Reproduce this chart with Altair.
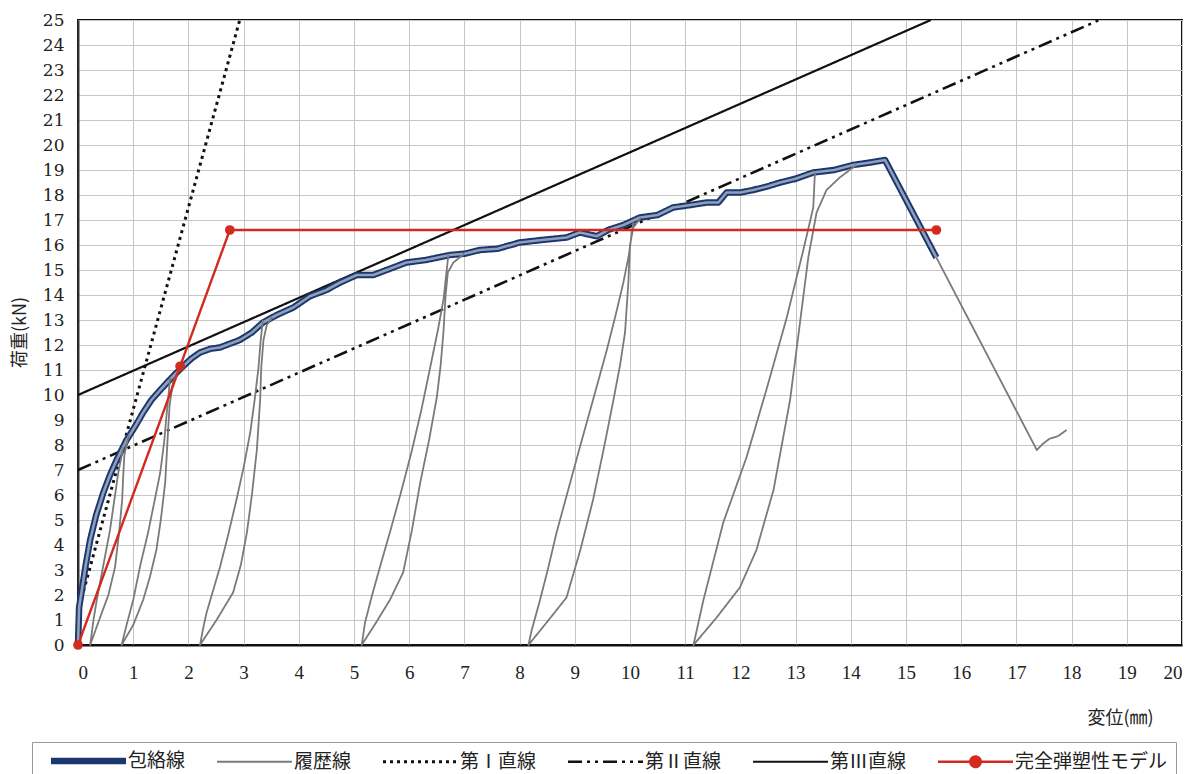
import altair as alt
import pandas as pd

# ---------------- data ----------------
series_names = ["包絡線", "履歴線", "第Ⅰ直線", "第Ⅱ直線", "第Ⅲ直線", "完全弾塑性モデル"]
series_colors = ["#1c3770", "#7a7a7a", "#111111", "#111111", "#111111", "#d42a1e"]
series_dashes = [[1, 0], [1, 0], [3, 4], [14, 5, 3, 5, 3, 5], [1, 0], [1, 0]]
series_widths = [6.5, 1.8, 3, 2.6, 2.2, 2.4]

x_ticks = list(range(0, 21))
y_ticks = list(range(0, 26))

# envelope (包絡線)
env_x = [0, 0.02, 0.07, 0.14, 0.22, 0.33, 0.46, 0.58, 0.7, 0.88, 1.05, 1.18, 1.33, 1.49, 1.7,
         1.88, 2.05, 2.21, 2.4, 2.57, 2.75, 2.93, 3.15, 3.35, 3.6, 3.9, 4.2, 4.5, 4.75, 5.05,
         5.35, 5.65, 5.95, 6.3, 6.74, 7.0, 7.28, 7.6, 8.0, 8.4, 8.85, 9.09, 9.4, 9.6, 9.88,
         10.18, 10.5, 10.78, 11.1, 11.39, 11.6, 11.75, 12.0, 12.23, 12.5, 12.72, 13.0, 13.32,
         13.7, 14.04, 14.35, 14.62, 15.55]
env_y = [0, 1.5, 2.2, 3.2, 4.2, 5.2, 6.1, 6.8, 7.4, 8.2, 8.8, 9.3, 9.8, 10.2, 10.7,
         11.1, 11.45, 11.7, 11.85, 11.9, 12.05, 12.2, 12.5, 12.9, 13.2, 13.5, 13.95, 14.2, 14.5, 14.8,
         14.8, 15.05, 15.3, 15.4, 15.6, 15.65, 15.8, 15.85, 16.1, 16.2, 16.3, 16.5, 16.35, 16.6, 16.8,
         17.1, 17.2, 17.5, 17.6, 17.7, 17.7, 18.1, 18.1, 18.2, 18.35, 18.5, 18.65, 18.9,
         19.0, 19.2, 19.3, 19.4, 15.5]

# hysteresis loops (履歴線): unloading down the left branch, reloading up the right branch
loop1_x = [0.82, 0.73, 0.58, 0.46, 0.34, 0.28, 0.22, 0.4, 0.55, 0.67, 0.74, 0.8, 0.82, 0.84, 0.92]
loop1_y = [7.9, 6.9, 4.6, 3.2, 1.8, 1.0, 0, 1.1, 2.0, 3.1, 4.4, 5.8, 6.8, 7.6, 8.4]

loop2_x = [1.67, 1.64, 1.6, 1.56, 1.49, 1.39, 1.27, 1.13, 1.0, 0.88, 0.79,
           1.0, 1.18, 1.3, 1.42, 1.5, 1.58, 1.63, 1.66, 1.72, 1.82]
loop2_y = [10.7, 10.0, 9.1, 8.1, 6.9, 5.8, 4.5, 3.2, 1.8, 0.8, 0,
           0.8, 1.8, 2.7, 3.8, 5.0, 6.5, 8.5, 9.6, 10.5, 11.0]

loop3_x = [3.35, 3.31, 3.27, 3.2, 3.12, 3.0, 2.87, 2.72, 2.57, 2.45, 2.33, 2.27, 2.21,
           2.51, 2.81, 2.95, 3.06, 3.15, 3.24, 3.3, 3.32, 3.36, 3.42, 3.52]
loop3_y = [13.0, 12.2, 11.1, 9.8, 8.5, 7.1, 5.8, 4.4, 3.1, 2.2, 1.3, 0.7, 0,
           1.0, 2.1, 3.2, 4.5, 6.0, 7.8, 9.8, 11.1, 12.2, 12.8, 13.1]

loop4_x = [6.71, 6.62, 6.52, 6.38, 6.22, 6.04, 5.85, 5.65, 5.48, 5.32, 5.2, 5.14,
           5.4, 5.65, 5.89, 6.05, 6.2, 6.36, 6.5, 6.57, 6.62, 6.66, 6.7, 6.8, 7.0]
loop4_y = [15.6, 13.8, 12.6, 11.1, 9.4, 7.7, 6.1, 4.5, 3.2, 1.93, 0.9, 0,
           0.9, 1.8, 2.9, 4.6, 6.5, 8.2, 9.9, 11.2, 12.5, 14.0, 14.9, 15.3, 15.65]

loop5_x = [10.06, 9.98, 9.88, 9.74, 9.58, 9.33, 9.09, 8.88, 8.67, 8.52, 8.37, 8.22, 8.16,
           8.49, 8.85, 9.1, 9.33, 9.52, 9.7, 9.82, 9.91, 9.97, 10.0, 10.06, 10.2]
loop5_y = [16.9, 15.6, 14.5, 13.2, 11.8, 9.8, 7.9, 6.2, 4.5, 3.1, 1.8, 0.6, 0,
           0.9, 1.9, 3.8, 5.8, 7.8, 9.8, 11.2, 12.5, 14.5, 16.0, 16.7, 17.1]

loop6_x = [13.35, 13.32, 13.14, 12.84, 12.47, 12.11, 11.69, 11.33, 11.25, 11.15,
           11.57, 11.99, 12.29, 12.6, 12.9, 13.08, 13.23, 13.38, 13.56, 13.8, 14.1]
loop6_y = [18.9, 17.5, 15.8, 13.1, 10.2, 7.5, 4.9, 1.8, 1.0, 0,
           1.1, 2.3, 3.8, 6.2, 9.8, 12.9, 15.5, 17.3, 18.2, 18.7, 19.2]

tail_x = [15.55, 17.37, 17.48, 17.6, 17.75, 17.91]
tail_y = [15.5, 7.8, 8.05, 8.25, 8.35, 8.6]

# straight reference lines
line1_x = [0, 2.93]
line1_y = [1.35, 25]
line2_x = [0, 18.5]
line2_y = [7.0, 25]
line3_x = [0, 15.45]
line3_y = [10.0, 25]

# perfectly elasto-plastic model
model_x = [0, 1.85, 2.75, 15.55]
model_y = [0, 11.15, 16.6, 16.6]

# legend symbol paths (unit = half of sqrt(symbolSize))
plain_path = "M0,0H10"
dot_path = "M0,0H10M4.3,0A0.7,0.7 0 1 1 5.7,0A0.7,0.7 0 1 1 4.3,0Z"
series_shapes = [plain_path, plain_path, plain_path, plain_path, plain_path, dot_path]


# ---------------- helpers ----------------
def rows(series, seg, xs, ys):
    return [dict(series=series, seg=seg, i=k, x=a, y=b) for k, (a, b) in enumerate(zip(xs, ys))]


env_df = pd.DataFrame(rows("包絡線", "env", env_x, env_y))
hyst_rows = []
for name, (lx, ly) in {"l1": (loop1_x, loop1_y), "l2": (loop2_x, loop2_y), "l3": (loop3_x, loop3_y),
                       "l4": (loop4_x, loop4_y), "l5": (loop5_x, loop5_y), "l6": (loop6_x, loop6_y),
                       "tail": (tail_x, tail_y)}.items():
    hyst_rows += rows("履歴線", name, lx, ly)
hyst_df = pd.DataFrame(hyst_rows)
l1_df = pd.DataFrame(rows("第Ⅰ直線", "a", line1_x, line1_y))
l2_df = pd.DataFrame(rows("第Ⅱ直線", "a", line2_x, line2_y))
l3_df = pd.DataFrame(rows("第Ⅲ直線", "a", line3_x, line3_y))
model_df = pd.DataFrame(rows("完全弾塑性モデル", "a", model_x, model_y))

legend_spec = alt.Legend(
    orient="none", legendX=-46, legendY=722, direction="horizontal", columns=6,
    symbolSize=225, labelFont="Noto Sans CJK JP", labelFontSize=19,
    labelColor="#222222", labelOffset=66, columnPadding=20, strokeColor="#9a9a9a",
    fillColor="white", padding=8, labelLimit=300,
)

x_axis = alt.Axis(
    values=x_ticks, grid=True, gridColor="#c6c6c6", gridWidth=1, domainColor="#111111",
    domainWidth=2, ticks=False, labelFont="Liberation Serif", labelFontSize=19,
    labelColor="#222222", labelPadding=18, title="変位(㎜)", titleFont="Noto Sans CJK JP",
    titleFontSize=18, titleFontWeight="normal", titleColor="#222222", titleX=1042, titleY=73,
    titleAlign="center", titleBaseline="middle",
)
y_axis = alt.Axis(
    values=y_ticks, grid=True, gridColor="#c6c6c6", gridWidth=1, domainColor="#333333",
    domainWidth=2, ticks=False, labelFont="DejaVu Serif", labelFontSize=17,
    labelColor="#222222", labelPadding=14, title="荷重(kN)", titleFont="Noto Sans CJK JP",
    titleFontSize=18, titleFontWeight="normal", titleColor="#222222", titleX=-58, titleY=312,
    titleAngle=-90, titleAlign="center", titleBaseline="middle",
)

X = alt.X("x:Q", scale=alt.Scale(domain=[0, 20], nice=False, zero=False), axis=x_axis)
Y = alt.Y("y:Q", scale=alt.Scale(domain=[0, 25], nice=False, zero=False), axis=y_axis)

color_enc = alt.Color("series:N", title=None,
                      scale=alt.Scale(domain=series_names, range=series_colors), legend=legend_spec)
dash_enc = alt.StrokeDash("series:N", title=None,
                          scale=alt.Scale(domain=series_names, range=series_dashes), legend=legend_spec)
width_enc = alt.StrokeWidth("series:N", title=None,
                            scale=alt.Scale(type="ordinal", domain=series_names, range=series_widths),
                            legend=legend_spec)
shape_enc = alt.Shape("series:N", title=None,
                      scale=alt.Scale(domain=series_names, range=series_shapes), legend=legend_spec)


def styled_line(df):
    return alt.Chart(df).mark_line(strokeCap="butt", strokeJoin="round").encode(
        x=X, y=Y, color=color_enc, strokeDash=dash_enc, strokeWidth=width_enc,
        detail="seg:N", order=alt.Order("i:Q"),
    )


env_inner = alt.Chart(env_df).mark_line(color="#8fa0b8", strokeWidth=2.6, strokeJoin="round").encode(
    x=X, y=Y, order=alt.Order("i:Q")
)
model_pts = alt.Chart(model_df).mark_circle(color="#d42a1e", size=95, opacity=1, clip=False).encode(
    x=X, y=Y
)
# empty layer that only lends its shape scale to the shared legend
legend_shapes = alt.Chart(model_df).transform_filter("false").mark_point(filled=True, opacity=1).encode(
    x=X, y=Y, color=color_enc, shape=shape_enc, strokeDash=dash_enc, strokeWidth=width_enc,
)

chart = alt.layer(
    styled_line(l1_df),
    styled_line(l2_df),
    styled_line(l3_df),
    styled_line(env_df),
    env_inner,
    styled_line(hyst_df),
    styled_line(model_df),
    model_pts,
    legend_shapes,
).properties(
    width=1104, height=625,
    padding={"left": 78, "top": 20, "right": 13, "bottom": 129},
    autosize=alt.AutoSizeParams(type="none"),
    background="white",
).configure_view(stroke="#111111", strokeWidth=2)

chart.save("out.html", embed_options={"renderer": "svg", "actions": False})
